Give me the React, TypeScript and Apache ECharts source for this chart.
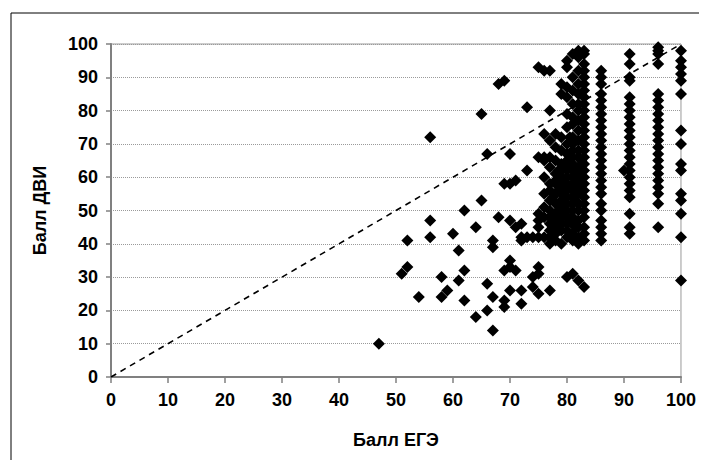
import React, { useEffect, useRef } from "react";
import * as echarts from "echarts";

const xTicks = [0, 10, 20, 30, 40, 50, 60, 70, 80, 90, 100];
const yTicks = [0, 10, 20, 30, 40, 50, 60, 70, 80, 90, 100];

const scatteredPoints: [number, number][] = [
  [47, 10], [51, 31], [52, 33], [52, 41], [54, 24], [56, 72], [56, 47], [56, 42],
  [58, 30], [58, 24], [59, 26], [60, 43], [61, 29], [61, 38], [62, 50], [62, 23],
  [62, 32], [64, 45], [64, 18], [65, 79], [65, 53], [66, 67], [66, 28], [66, 20],
  [67, 14], [67, 39], [67, 41], [67, 24], [68, 48], [68, 88], [69, 89], [69, 21],
  [69, 32], [69, 58], [69, 23], [70, 67], [70, 47], [70, 35], [70, 33], [70, 58],
  [70, 26], [71, 59], [71, 32], [71, 45], [72, 42], [72, 22], [72, 41], [72, 46],
  [72, 26], [73, 81], [73, 42], [73, 62], [74, 42], [74, 30], [74, 27], [75, 93],
  [75, 47], [75, 49], [75, 45], [75, 33], [75, 25], [75, 42], [75, 31], [75, 66],
  [76, 92], [76, 48], [76, 65], [76, 55], [76, 73], [76, 60], [76, 42], [76, 51],
  [76, 66],
];

const clusterPoints: [number, number][] = [
  [77, 92], [77, 80], [77, 71], [77, 66], [77, 63], [77, 58], [77, 56], [77, 53],
  [77, 50], [77, 48], [77, 46], [77, 44], [77, 42], [77, 40], [77, 26],
  [78, 73], [78, 69], [78, 65], [78, 61], [78, 58], [78, 55], [78, 52], [78, 49],
  [78, 47], [78, 45], [78, 43], [78, 41], [78, 59],
  [79, 88], [79, 85], [79, 72], [79, 68], [79, 64], [79, 62], [79, 60], [79, 57],
  [79, 55], [79, 53], [79, 51], [79, 48], [79, 46], [79, 44], [79, 40],
  [80, 95], [80, 93], [80, 87], [80, 84], [80, 79], [80, 75], [80, 70], [80, 67],
  [80, 65], [80, 62], [80, 60], [80, 58], [80, 56], [80, 54], [80, 52], [80, 50],
  [80, 48], [80, 46], [80, 44], [80, 42], [80, 30],
  [81, 97], [81, 90], [81, 86], [81, 82], [81, 78], [81, 76], [81, 72], [81, 70],
  [81, 68], [81, 66], [81, 64], [81, 62], [81, 60], [81, 58], [81, 56], [81, 54],
  [81, 52], [81, 50], [81, 48], [81, 46], [81, 43], [81, 41], [81, 31],
  [82, 98], [82, 96], [82, 92], [82, 88], [82, 85], [82, 82], [82, 80], [82, 77],
  [82, 74], [82, 71], [82, 68], [82, 66], [82, 63], [82, 61], [82, 59], [82, 57],
  [82, 55], [82, 52], [82, 50], [82, 47], [82, 45], [82, 42], [82, 40], [82, 29],
  [83, 98], [83, 97], [83, 94], [83, 92], [83, 90], [83, 88], [83, 86], [83, 84],
  [83, 82], [83, 80], [83, 78], [83, 76], [83, 74], [83, 72], [83, 70], [83, 68],
  [83, 66], [83, 64], [83, 62], [83, 60], [83, 58], [83, 56], [83, 54], [83, 52],
  [83, 50], [83, 48], [83, 45], [83, 43], [83, 41], [83, 27],
  [79.5, 63], [80.5, 57], [78.5, 50], [77.5, 45], [81.5, 60], [80.5, 72],
  [82.5, 65], [79.5, 58], [78.5, 56], [81.5, 53], [80.5, 47], [77.5, 54],
  [78.5, 62], [79.5, 49], [81.5, 45], [82.5, 58], [80.5, 64], [78.5, 44],
];

const columnPoints: [number, number][] = [
  [86, 92], [86, 90], [86, 88], [86, 85], [86, 83], [86, 81], [86, 79], [86, 77],
  [86, 75], [86, 73], [86, 71], [86, 69], [86, 67], [86, 65], [86, 63], [86, 61],
  [86, 59], [86, 57], [86, 55], [86, 52], [86, 50], [86, 47], [86, 45], [86, 43],
  [86, 41],
  [91, 97], [91, 94], [91, 90], [91, 89], [91, 84], [91, 82], [91, 80], [91, 78],
  [91, 76], [91, 74], [91, 72], [91, 70], [91, 68], [91, 66], [91, 64], [91, 62],
  [91, 60], [91, 58], [91, 56], [91, 54], [91, 49], [91, 45], [91, 43], [90, 62],
  [96, 99], [96, 98], [96, 97], [96, 94], [96, 85], [96, 83], [96, 81], [96, 79],
  [96, 77], [96, 75], [96, 73], [96, 71], [96, 69], [96, 67], [96, 65], [96, 63],
  [96, 61], [96, 59], [96, 57], [96, 55], [96, 52], [96, 45],
  [100, 98], [100, 95], [100, 93], [100, 91], [100, 89], [100, 85], [100, 74],
  [100, 70], [100, 64], [100, 62], [100, 55], [100, 53], [100, 49], [100, 42],
  [100, 29],
];

const diagonal: [number, number][] = [[0, 0], [100, 100]];

export default function App() {
  const ref = useRef<HTMLDivElement>(null);
  useEffect(() => {
    if (!ref.current) return;
    const chart = echarts.init(ref.current, undefined, { renderer: "svg" });
    const font = "'Liberation Sans', Arial, sans-serif";
    const allPoints = [...scatteredPoints, ...clusterPoints, ...columnPoints];
    chart.setOption({
      animation: false,
      backgroundColor: "#ffffff",
      textStyle: { fontFamily: font },
      grid: {
        left: 103, top: 36, right: 12, bottom: 83,
        show: true, borderColor: "#9a9a9a", borderWidth: 1,
      },
      graphic: [
        {
          type: "rect",
          shape: { x: 3, y: 5, width: 720, height: 480 },
          style: { fill: "none", stroke: "#000", lineWidth: 1 },
          silent: true,
        },
      ],
      xAxis: {
        type: "value", min: 0, max: 100, interval: 10,
        name: "Балл ЕГЭ", nameLocation: "middle", nameGap: 54,
        nameTextStyle: { fontSize: 18, fontWeight: "bold", color: "#000", fontFamily: font },
        axisLine: { show: true, onZero: false, lineStyle: { color: "#808080", width: 2 } },
        axisTick: { show: true, length: 6, lineStyle: { color: "#808080", width: 1.5 } },
        axisLabel: {
          fontSize: 18, fontWeight: "bold", color: "#000", margin: 14, fontFamily: font,
          formatter: (v: number) => (xTicks.includes(v) ? String(v) : ""),
        },
        splitLine: { show: false },
      },
      yAxis: {
        type: "value", min: 0, max: 100, interval: 10,
        name: "Балл ДВИ", nameLocation: "middle", nameGap: 62, nameRotate: 90,
        nameTextStyle: { fontSize: 18, fontWeight: "bold", color: "#000", fontFamily: font },
        axisLine: { show: true, onZero: false, lineStyle: { color: "#808080", width: 2 } },
        axisTick: { show: true, length: 5, lineStyle: { color: "#808080", width: 1.5 } },
        axisLabel: {
          fontSize: 18, fontWeight: "bold", color: "#000", margin: 13, fontFamily: font,
          formatter: (v: number) => (yTicks.includes(v) ? String(v) : ""),
        },
        splitLine: { show: true, lineStyle: { color: "#9a9a9a", width: 1, type: "dotted" } },
      },
      series: [
        {
          type: "line",
          data: diagonal,
          symbol: "none",
          lineStyle: { color: "#000", width: 1.6, type: [6, 5] },
          z: 3,
        },
        {
          type: "scatter",
          data: allPoints,
          symbol: "diamond",
          symbolSize: 12,
          itemStyle: { color: "#000", opacity: 1 },
          clip: false,
          z: 4,
        },
      ],
    });
    return () => chart.dispose();
  }, []);
  return <div ref={ref} style={{ width: 691, height: 452 }} />;
}
